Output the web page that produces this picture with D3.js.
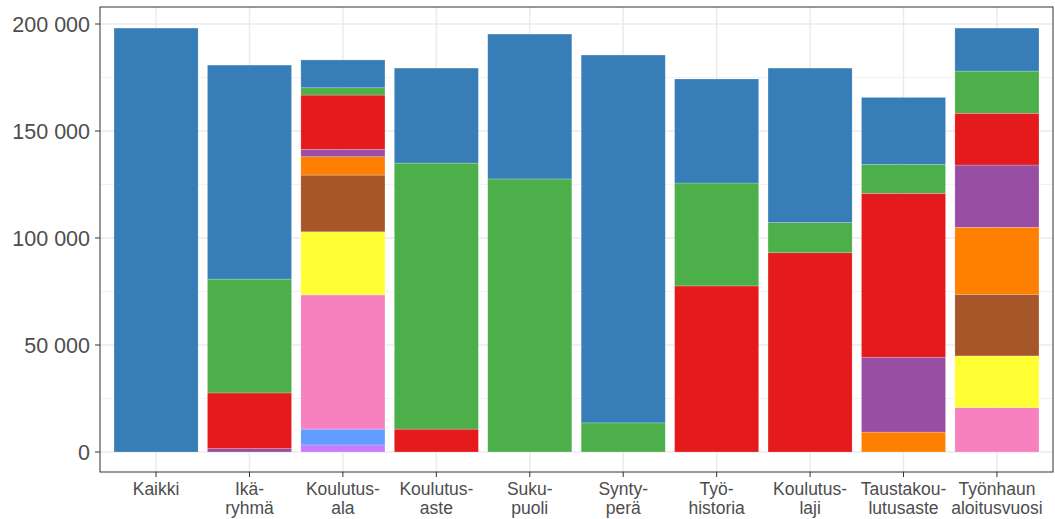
<!DOCTYPE html>
<meta charset="utf-8">
<script src="https://cdn.jsdelivr.net/npm/d3@7"></script>
<style>
body { margin: 0; background: #fff; }
text { font-family: "Liberation Sans", Arial, sans-serif; fill: #4d4d4d; }
</style>
<body>
<script>

// categories (x axis), each label split in two lines
var categories = ["Kaikki", "Ikäryhmä", "Koulutusala", "Koulutusaste", "Sukupuoli",
                  "Syntyperä", "Työhistoria", "Koulutuslaji", "Taustakoulutusaste", "Työnhaun aloitusvuosi"];
var labelLines = [["Kaikki"], ["Ikä-", "ryhmä"], ["Koulutus-", "ala"], ["Koulutus-", "aste"],
                  ["Suku-", "puoli"], ["Synty-", "perä"], ["Työ-", "historia"], ["Koulutus-", "laji"],
                  ["Taustakou-", "lutusaste"], ["Työnhaun", "aloitusvuosi"]];

// stacked groups, bottom to top
var groups = ["g10", "g9", "g8", "g7", "g6", "g5", "g4", "g3", "g2", "g1"];
var groupColors = ["#C77CFF", "#619CFF", "#F781BF", "#FFFF33", "#A65628",
                   "#FF7F00", "#984EA3", "#E41A1C", "#4DAF4A", "#377EB8"];

var g1  = [198100, 100000, 13000, 44400, 67700, 171900, 48600, 72200, 31400, 20100];
var g2  = [0, 53200, 3400, 124300, 127600, 13600, 48100, 14100, 13400, 19700];
var g3  = [0, 26000, 25400, 10700, 0, 0, 77600, 93100, 76600, 24200];
var g4  = [0, 1600, 3400, 0, 0, 0, 0, 0, 35000, 29100];
var g5  = [0, 0, 8600, 0, 0, 0, 0, 0, 9300, 31300];
var g6  = [0, 0, 26500, 0, 0, 0, 0, 0, 0, 28800];
var g7  = [0, 0, 29500, 0, 0, 0, 0, 0, 0, 24200];
var g8  = [0, 0, 62700, 0, 0, 0, 0, 0, 0, 20700];
var g9  = [0, 0, 7400, 0, 0, 0, 0, 0, 0, 0];
var g10 = [0, 0, 3300, 0, 0, 0, 0, 0, 0, 0];

var yTicks = [0, 50000, 100000, 150000, 200000];
var yMinor = [25000, 75000, 125000, 175000];

var series = {g1: g1, g2: g2, g3: g3, g4: g4, g5: g5, g6: g6, g7: g7, g8: g8, g9: g9, g10: g10};
var table = categories.map(function(c, i) {
  var row = {cat: c};
  groups.forEach(function(g) { row[g] = series[g][i]; });
  return row;
});

var width = 1055, height = 519;
var pLeft = 100, pRight = 1053, pTop = 7, pBottom = 472;

var svg = d3.select("body").append("svg")
    .attr("width", width)
    .attr("height", height);

var x = d3.scalePoint()
    .domain(categories)
    .range([pLeft, pRight])
    .padding(0.6);
var bw = x.step() * 0.9;

var y = d3.scaleLinear()
    .domain([-9346, 207944])
    .range([pBottom, pTop]);

var fmt = function(v) { return d3.format(",")(v).replace(/,/g, " "); };

// grid
svg.append("g").selectAll("line.minor")
    .data(yMinor).enter().append("line")
    .attr("x1", pLeft).attr("x2", pRight)
    .attr("y1", function(d) { return y(d); })
    .attr("y2", function(d) { return y(d); })
    .attr("stroke", "#f2f2f2").attr("stroke-width", 1);

svg.append("g").selectAll("line.major")
    .data(yTicks).enter().append("line")
    .attr("x1", pLeft).attr("x2", pRight)
    .attr("y1", function(d) { return y(d); })
    .attr("y2", function(d) { return y(d); })
    .attr("stroke", "#ebebeb").attr("stroke-width", 1.5);

svg.append("g").selectAll("line.vmajor")
    .data(categories).enter().append("line")
    .attr("y1", pTop).attr("y2", pBottom)
    .attr("x1", function(d) { return x(d); })
    .attr("x2", function(d) { return x(d); })
    .attr("stroke", "#ebebeb").attr("stroke-width", 1.5);

// bars
var stacked = d3.stack().keys(groups)(table);

svg.append("g").selectAll("g")
    .data(stacked).enter().append("g")
    .attr("fill", function(d, i) { return groupColors[i]; })
    .selectAll("rect")
    .data(function(d) { return d.filter(function(s) { return s[1] > s[0]; }); })
    .enter().append("rect")
    .attr("x", function(d) { return x(d.data.cat) - bw / 2; })
    .attr("width", bw)
    .attr("y", function(d) { return y(d[1]); })
    .attr("height", function(d) { return y(d[0]) - y(d[1]); })
    .attr("stroke", "rgba(255,255,255,0.35)")
    .attr("stroke-width", 0.6);

// panel border
svg.append("rect")
    .attr("x", pLeft).attr("y", pTop)
    .attr("width", pRight - pLeft).attr("height", pBottom - pTop)
    .attr("fill", "none").attr("stroke", "#333").attr("stroke-width", 1);

// y axis
var yAxis = svg.append("g");
yAxis.selectAll("line")
    .data(yTicks).enter().append("line")
    .attr("x1", pLeft - 5).attr("x2", pLeft)
    .attr("y1", function(d) { return y(d); })
    .attr("y2", function(d) { return y(d); })
    .attr("stroke", "#333");
yAxis.selectAll("text")
    .data(yTicks).enter().append("text")
    .attr("x", pLeft - 10)
    .attr("y", function(d) { return y(d); })
    .attr("dy", "0.36em")
    .attr("text-anchor", "end")
    .style("font-size", "21.5px")
    .text(fmt);

// x axis
var xAxis = svg.append("g");
xAxis.selectAll("line")
    .data(categories).enter().append("line")
    .attr("y1", pBottom).attr("y2", pBottom + 5)
    .attr("x1", function(d) { return x(d); })
    .attr("x2", function(d) { return x(d); })
    .attr("stroke", "#333");

var lab = xAxis.selectAll("text")
    .data(categories).enter().append("text")
    .attr("text-anchor", "middle")
    .style("font-size", "17.5px");
lab.selectAll("tspan")
    .data(function(d, i) { return labelLines[i].map(function(t) { return {t: t, c: d}; }); })
    .enter().append("tspan")
    .attr("x", function(d) { return x(d.c); })
    .attr("y", function(d, j) { return 495 + j * 19; })
    .text(function(d) { return d.t; });

</script>
</body>
</html>
